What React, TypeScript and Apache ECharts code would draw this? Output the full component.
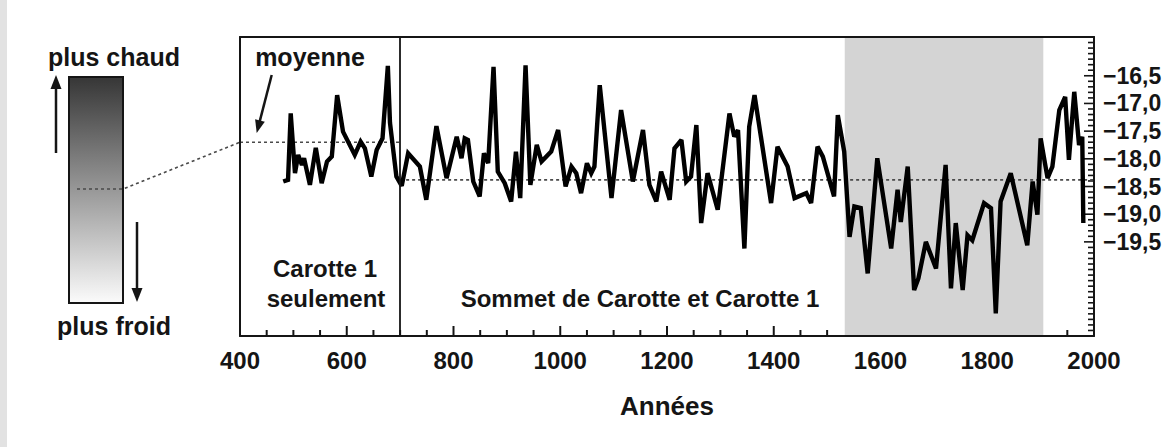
import React, { useEffect, useRef } from "react";
import * as echarts from "echarts";

const YEARS = [
  481, 490, 495, 503, 509, 516, 520, 531, 542, 553,
  563, 572, 582, 593, 615, 626, 634, 646, 656, 667,
  677, 681, 693, 703, 715, 737, 749, 768, 787, 806,
  815, 821, 827, 837, 849, 857, 865, 875, 883, 896,
  908, 917, 925, 935, 944, 956, 965, 983, 996, 1010,
  1021, 1030, 1039, 1050, 1058, 1064, 1074, 1096, 1114, 1136,
  1155, 1167, 1180, 1189, 1205, 1214, 1227, 1236, 1245, 1255,
  1264, 1276, 1295, 1317, 1326, 1333, 1345, 1354, 1364, 1395,
  1407, 1426, 1439, 1461, 1470, 1482, 1492, 1513, 1520, 1532,
  1542, 1551, 1563, 1576, 1594, 1620, 1632, 1638, 1651, 1663,
  1671, 1685, 1704, 1722, 1732, 1741, 1754, 1763, 1772, 1794,
  1807, 1816, 1825, 1844, 1875, 1885, 1894, 1900, 1913, 1922,
  1935, 1946, 1953, 1963, 1972, 1978, 1980,
];

const VALUES = [
  -18.41, -18.38, -17.18, -18.26, -17.93, -18.11, -17.99, -18.47, -17.8, -18.44,
  -18.05, -17.96, -16.85, -17.51, -17.93, -17.69, -17.81, -18.32, -17.84, -17.63,
  -16.32, -17.35, -18.32, -18.49, -17.9, -18.14, -18.74, -17.41, -18.35, -17.6,
  -17.99, -17.63, -17.66, -18.41, -18.68, -17.9, -18.08, -16.34, -18.23, -18.44,
  -18.77, -17.87, -18.71, -16.31, -18.47, -17.75, -18.05, -17.87, -17.48, -18.5,
  -18.14, -18.26, -18.62, -18.08, -18.26, -18.14, -16.67, -18.71, -17.12, -18.41,
  -17.48, -18.47, -18.77, -18.23, -18.74, -17.81, -17.66, -18.41, -18.32, -17.39,
  -19.16, -18.26, -18.92, -17.18, -17.6, -17.48, -19.62, -17.42, -16.85, -18.8,
  -17.78, -18.14, -18.71, -18.62, -18.8, -17.78, -17.96, -18.68, -17.21, -17.87,
  -19.41, -18.86, -18.89, -20.07, -17.99, -19.62, -18.56, -19.14, -18.14, -20.37,
  -20.16, -19.5, -19.98, -18.11, -20.34, -19.16, -20.37, -19.38, -19.47, -18.8,
  -18.89, -20.79, -18.77, -18.26, -19.56, -18.41, -19.01, -17.63, -18.35, -18.14,
  -17.12, -16.88, -18.02, -16.79, -17.75, -17.6, -19.16,
];

const X_MIN = 400;
const X_MAX = 2000;
const X_LABEL_STEP = 200;
const X_MINOR_STEP = 50;
const Y_MIN = -21.2;
const Y_MAX = -15.8;
const Y_LABELS = [-16.5, -17.0, -17.5, -18.0, -18.5, -19.0, -19.5];
const Y_MINOR_STEP = 0.1;
const CORE1_END = 700;
const MEAN_CORE1 = -17.7;
const MEAN_ALL = -18.38;
const LITTLE_ICE_AGE = [1533, 1905];

const FONT = '"Liberation Sans", Arial, Helvetica, sans-serif';
const INK = "#151515";

function fmtY(v: number) {
  const s = Math.abs(v).toFixed(1).replace(".", ",");
  return (v < 0 ? "\u2212" : "") + s;
}

function stepValues(a: number, b: number, step: number) {
  const out: number[] = [];
  const n = Math.round((b - a) / step);
  for (let i = 0; i <= n; i++) out.push(Math.round((a + i * step) * 1000) / 1000);
  return out;
}

function arrow(x1: number, y1: number, x2: number, y2: number, headLen = 14, halfW = 5.5) {
  const dx = x2 - x1;
  const dy = y2 - y1;
  const len = Math.sqrt(dx * dx + dy * dy);
  const ux = dx / len;
  const uy = dy / len;
  const bx = x2 - ux * headLen;
  const by = y2 - uy * headLen;
  const px = -uy;
  const py = ux;
  return [
    {
      type: "line",
      shape: { x1, y1, x2: bx + ux * 2, y2: by + uy * 2 },
      style: { stroke: INK, lineWidth: 2.5 },
      silent: true,
    },
    {
      type: "polygon",
      shape: {
        points: [
          [x2, y2],
          [bx + px * halfW, by + py * halfW],
          [bx - px * halfW, by - py * halfW],
        ],
      },
      style: { fill: INK },
      silent: true,
    },
  ];
}

function txt(text: string, x: number, y: number, size = 24) {
  return {
    type: "text",
    x,
    y,
    silent: true,
    style: {
      text,
      fill: INK,
      fontSize: size,
      fontWeight: "bold",
      fontFamily: FONT,
      align: "center",
      verticalAlign: "middle",
    },
  };
}

export default function App() {
  const ref = useRef<HTMLDivElement>(null);

  useEffect(() => {
    if (!ref.current) return;
    document.body.style.margin = "0";
    const chart = echarts.init(ref.current, null, { renderer: "svg" });
    const lineData = YEARS.map((y, i) => [y, VALUES[i]]);

    const option: any = {
      animation: false,
      backgroundColor: "#ffffff",
      grid: { left: 240, right: 79, top: 37, bottom: 111, containLabel: false },
      xAxis: [
        {
          type: "value",
          min: X_MIN,
          max: X_MAX,
          interval: X_LABEL_STEP,
          position: "bottom",
          z: 6,
          axisLine: { show: true, lineStyle: { color: INK, width: 2 } },
          axisTick: { show: false },
          axisLabel: {
            fontFamily: FONT,
            fontSize: 24,
            fontWeight: "bold",
            color: INK,
            margin: 12,
            formatter: (v: number) => String(v),
          },
          splitLine: { show: false },
          name: "Années",
          nameLocation: "middle",
          nameGap: 57,
          nameTextStyle: { fontFamily: FONT, fontSize: 26, fontWeight: "bold", color: INK },
        },
        {
          type: "value",
          min: X_MIN,
          max: X_MAX,
          position: "top",
          z: 6,
          axisLine: { show: true, lineStyle: { color: INK, width: 2 } },
          axisTick: { show: false },
          axisLabel: { show: false },
          splitLine: { show: false },
        },
      ],
      yAxis: [
        {
          type: "value",
          min: Y_MIN,
          max: Y_MAX,
          position: "right",
          z: 6,
          axisLine: { show: true, lineStyle: { color: INK, width: 2 } },
          axisTick: { show: false },
          axisLabel: {
            show: true,
            customValues: Y_LABELS,
            formatter: (v: number) => fmtY(v),
            fontFamily: FONT,
            fontSize: 23,
            fontWeight: "bold",
            color: INK,
            margin: 9,
          },
          splitLine: { show: false },
        },
        {
          type: "value",
          min: Y_MIN,
          max: Y_MAX,
          position: "left",
          z: 6,
          axisLine: { show: true, lineStyle: { color: INK, width: 2 } },
          axisTick: { show: false },
          axisLabel: { show: false },
          splitLine: { show: false },
        },
      ],
      series: [
        {
          type: "line",
          name: "band",
          xAxisIndex: 0,
          yAxisIndex: 0,
          data: [],
          z: 1,
          silent: true,
          markArea: {
            silent: true,
            itemStyle: { color: "#d4d4d4" },
            data: [[{ xAxis: LITTLE_ICE_AGE[0] }, { xAxis: LITTLE_ICE_AGE[1] }]],
          },
        },
        {
          type: "line",
          name: "moyenne1",
          xAxisIndex: 0,
          yAxisIndex: 0,
          data: [
            [X_MIN, MEAN_CORE1],
            [CORE1_END, MEAN_CORE1],
          ],
          showSymbol: false,
          symbol: "none",
          z: 2,
          silent: true,
          lineStyle: { color: "#4a4a4a", width: 1.6, type: [3, 3] },
        },
        {
          type: "line",
          name: "moyenne2",
          xAxisIndex: 0,
          yAxisIndex: 0,
          data: [
            [CORE1_END, MEAN_ALL],
            [X_MAX, MEAN_ALL],
          ],
          showSymbol: false,
          symbol: "none",
          z: 2,
          silent: true,
          lineStyle: { color: "#4a4a4a", width: 1.6, type: [3, 3] },
          markLine: {
            silent: true,
            symbol: "none",
            label: { show: false },
            lineStyle: { color: INK, width: 1.8, type: "solid" },
            data: [{ xAxis: CORE1_END }],
          },
        },
        {
          type: "line",
          name: "isotopes",
          xAxisIndex: 0,
          yAxisIndex: 0,
          data: lineData,
          showSymbol: false,
          symbol: "none",
          z: 4,
          lineStyle: { color: "#000", width: 4.4, join: "miter", miterLimit: 2.5 },
        },
      ],
    };
    chart.setOption(option);

    const toPx = (x: number, y: number) =>
      chart.convertToPixel({ xAxisIndex: 0, yAxisIndex: 0 }, [x, y]) as number[];

    // axis ticks, placed through the chart's own scales
    const xMajor = stepValues(X_MIN, X_MAX, X_LABEL_STEP);
    const xAll = stepValues(X_MIN, X_MAX, X_MINOR_STEP);
    const yAll = stepValues(Y_MIN, Y_MAX, Y_MINOR_STEP);
    const tickEls: any[] = [];
    xAll.forEach((v) => {
      const p = toPx(v, Y_MIN);
      const len = xMajor.indexOf(v) >= 0 ? 10 : 6;
      tickEls.push({
        type: "line",
        silent: true,
        shape: { x1: p[0], y1: p[1], x2: p[0], y2: p[1] - len },
        style: { stroke: INK, lineWidth: 2 },
      });
    });
    yAll.forEach((v) => {
      const p = toPx(X_MAX, v);
      const len = Y_LABELS.indexOf(v) >= 0 ? 10 : 6;
      tickEls.push({
        type: "line",
        silent: true,
        shape: { x1: p[0], y1: p[1], x2: p[0] - len, y2: p[1] },
        style: { stroke: INK, lineWidth: 1.6 },
      });
    });

    const m = toPx(X_MIN, MEAN_CORE1);
    const barX = 69;
    const barY = 77;
    const barW = 54;
    const barH = 226;
    const barMid = 189;

    const graphic: any[] = [
      {
        type: "rect",
        silent: true,
        shape: { x: barX, y: barY, width: barW, height: barH },
        style: {
          fill: new echarts.graphic.LinearGradient(0, 0, 0, 1, [
            { offset: 0, color: "#363636" },
            { offset: 0.5, color: "#989898" },
            { offset: 1, color: "#fbfbfb" },
          ]),
          stroke: INK,
          lineWidth: 2,
        },
      },
      {
        type: "polyline",
        silent: true,
        shape: {
          points: [
            [barX + 8, barMid],
            [barX + barW, barMid],
            [m[0], m[1]],
          ],
        },
        style: { stroke: "#4a4a4a", lineWidth: 1.6, lineDash: [3, 3], fill: null },
      },
      ...arrow(56, 153, 56, 75),
      ...arrow(137, 222, 137, 302),
      ...arrow(271.7, 75, 256.7, 133, 13, 5),
      txt("plus chaud", 114, 57, 25),
      txt("plus froid", 114, 326, 25),
      txt("moyenne", 310, 57, 25),
      txt("Carotte 1", 325, 268, 24),
      txt("seulement", 326, 298, 24),
      txt("Sommet de Carotte et Carotte 1", 640, 298, 24),
      txt("Petit âge", 944, 71, 24),
      txt("glaciaire", 947, 103, 24),
      ...tickEls,
    ];
    chart.setOption({ graphic });

    return () => chart.dispose();
  }, []);

  return (
    <div style={{ position: "absolute", left: 0, top: 0, width: 1173, height: 447, background: "#fff" }}>
      <div ref={ref} style={{ position: "absolute", left: 0, top: 0, width: 1173, height: 447 }} />
      <div style={{ position: "absolute", left: 0, top: 0, width: 7, height: 447, background: "#e2e2e2" }} />
    </div>
  );
}
